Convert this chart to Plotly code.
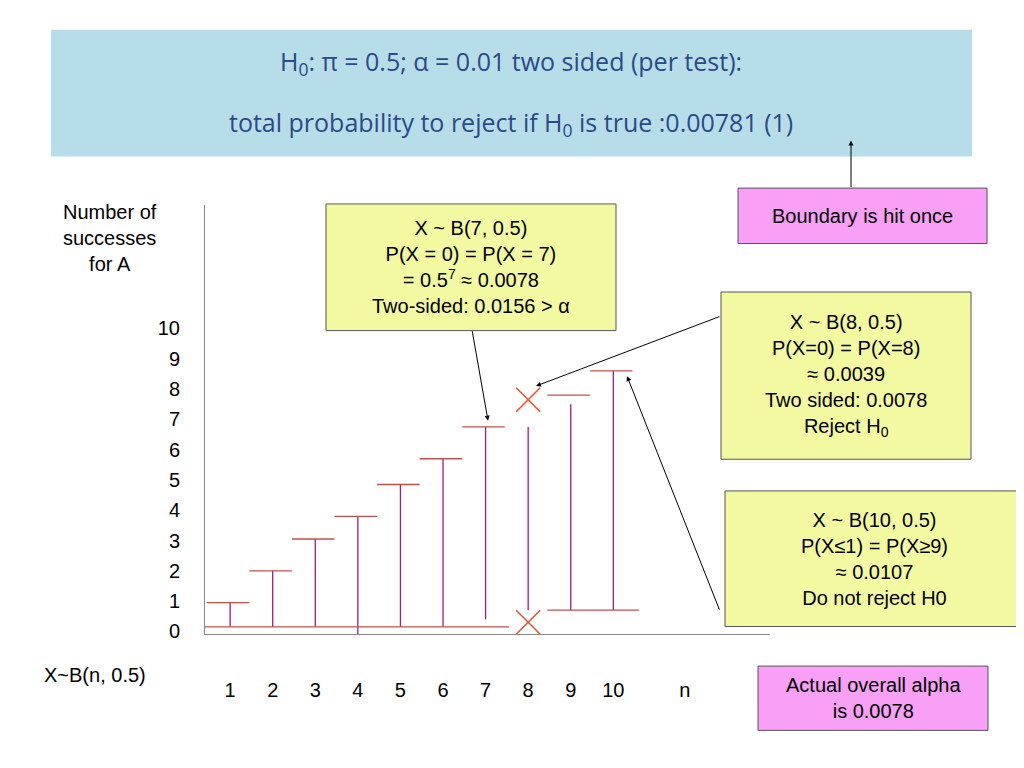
import plotly.graph_objects as go

n = [1, 2, 3, 4, 5, 6, 7, 8, 9, 10]
top = [0.95, 2.0, 3.05, 3.8, 4.85, 5.7, 6.75, 6.75, 7.5, 8.6]
low = [0.15, 0.15, 0.15, -0.1, 0.15, 0.15, 0.4, 0.7, 0.7, 0.7]
cap_n = [1, 2, 3, 4, 5, 6, 7, 9, 10]
cap_y = [0.95, 2.0, 3.05, 3.8, 4.85, 5.7, 6.75, 7.8, 8.6]
cross_n = [8, 8]
cross_y = [7.65, 0.3]
base_y = 0.15
low_cap_y = 0.7
xticks = [1, 2, 3, 4, 5, 6, 7, 8, 9, 10, 11.68]
xlabels = ["1", "2", "3", "4", "5", "6", "7", "8", "9", "10", "n"]
yticks = list(range(11))

OFF = 8
W, H = 1024, 768

def PX(x):
    return (x - OFF) / W

def PY(y):
    return 1 - (y - OFF) / H

fig = go.Figure()
vx, vy = [], []
for a, lo, hi in zip(n, low, top):
    vx += [a, a, None]; vy += [lo, hi, None]
fig.add_trace(go.Scatter(x=vx, y=vy, mode="lines", line=dict(color="#9b1b8a", width=1.3), hoverinfo="skip"))
cx, cy = [], []
for a, c in zip(cap_n, cap_y):
    cx += [a - 0.55, a + 0.45, None]; cy += [c, c, None]
cx += [0.41, 7.55, None]; cy += [base_y, base_y, None]
cx += [8.45, 10.6, None]; cy += [low_cap_y, low_cap_y, None]
fig.add_trace(go.Scatter(x=cx, y=cy, mode="lines", line=dict(color="#c0504d", width=1.3), hoverinfo="skip"))
fig.add_trace(go.Scatter(x=cross_n, y=cross_y, mode="markers",
                         marker=dict(symbol="x-thin", size=24, line=dict(color="#e8502a", width=1.5))))

fig.update_layout(
    width=W, height=H, margin=dict(l=0, r=0, t=0, b=0),
    paper_bgcolor="white", plot_bgcolor="white", showlegend=False,
    font=dict(family="Liberation Sans, Arial", size=20, color="black"),
    xaxis=dict(domain=[PX(205), PX(770)], range=[0.41, 13.68], tickvals=xticks, ticktext=xlabels,
               showgrid=False, zeroline=False, showline=True, linecolor="#888", ticks="",
               ticklabelstandoff=38, tickfont=dict(size=20)),
    yaxis=dict(domain=[PY(641), PY(207)], range=[-0.1, 14.08], tickvals=yticks,
               showgrid=False, zeroline=False, showline=True, linecolor="#888", ticks="",
               ticklabelstandoff=20, tickfont=dict(size=20)),
)

fig.add_shape(type="rect", xref="paper", yref="paper", x0=PX(51), x1=PX(972), y0=PY(158), y1=PY(30),
              fillcolor="#b7dde8", line=dict(width=0), layer="below")

def txt(x, y, t, **kw):
    fig.add_annotation(xref="paper", yref="paper", x=PX(x), y=PY(y), text=t, showarrow=False,
                       xanchor="center", yanchor="middle", **kw)

tf = dict(family="Open Sans, Lato", size=25, color="#2a4a8a")
txt(511, 63, "H<sub>0</sub>: π = 0.5; α = 0.01 two sided (per test):", font=tf)
txt(511, 125, "total probability to reject if H<sub>0</sub> is true :0.00781 (1)", font=tf)
txt(110, 240, "Number of<br>successes<br>for A", font=dict(size=20))
txt(95, 682, "X~B(n, 0.5)", font=dict(size=20))

def box(x0, y0, x1, y1, t, color):
    fig.add_shape(type="rect", xref="paper", yref="paper", x0=PX(x0), x1=PX(x1), y0=PY(y1), y1=PY(y0),
                  fillcolor=color, line=dict(color="#555", width=1))
    txt((x0+x1)/2, (y0+y1)/2, t, font=dict(size=20))

Y = "#f2f9a0"; PK = "#f7a0f5"
box(326, 206, 616, 334, "X ~ B(7, 0.5)<br>P(X = 0) = P(X = 7)<br>= 0.5<sup>7</sup> ≈ 0.0078<br>Two-sided: 0.0156 > α", Y)
box(721, 295, 971, 464, "X ~ B(8, 0.5)<br>P(X=0) = P(X=8)<br>≈ 0.0039<br>Two sided: 0.0078<br>Reject H<sub>0</sub>", Y)
box(725, 496, 1023, 633, "X ~ B(10, 0.5)<br>P(X≤1) = P(X≥9)<br>≈ 0.0107<br>Do not reject H0", Y)
box(738, 190, 987, 246, "Boundary is hit once", PK)
box(758, 673, 988, 738, "Actual overall alpha<br>is 0.0078", PK)

def arrow(tx, ty, hx, hy):
    fig.add_annotation(xref="paper", yref="paper", x=PX(hx), y=PY(hy), ax=tx-hx, ay=ty-hy, text="",
                       showarrow=True, arrowhead=2, arrowsize=1, arrowwidth=1, arrowcolor="black")

arrow(472, 334, 488, 425)
arrow(721, 320, 536, 390)
arrow(720, 615, 627, 380)
arrow(851, 190, 851, 142)

fig.write_html("out.html")
